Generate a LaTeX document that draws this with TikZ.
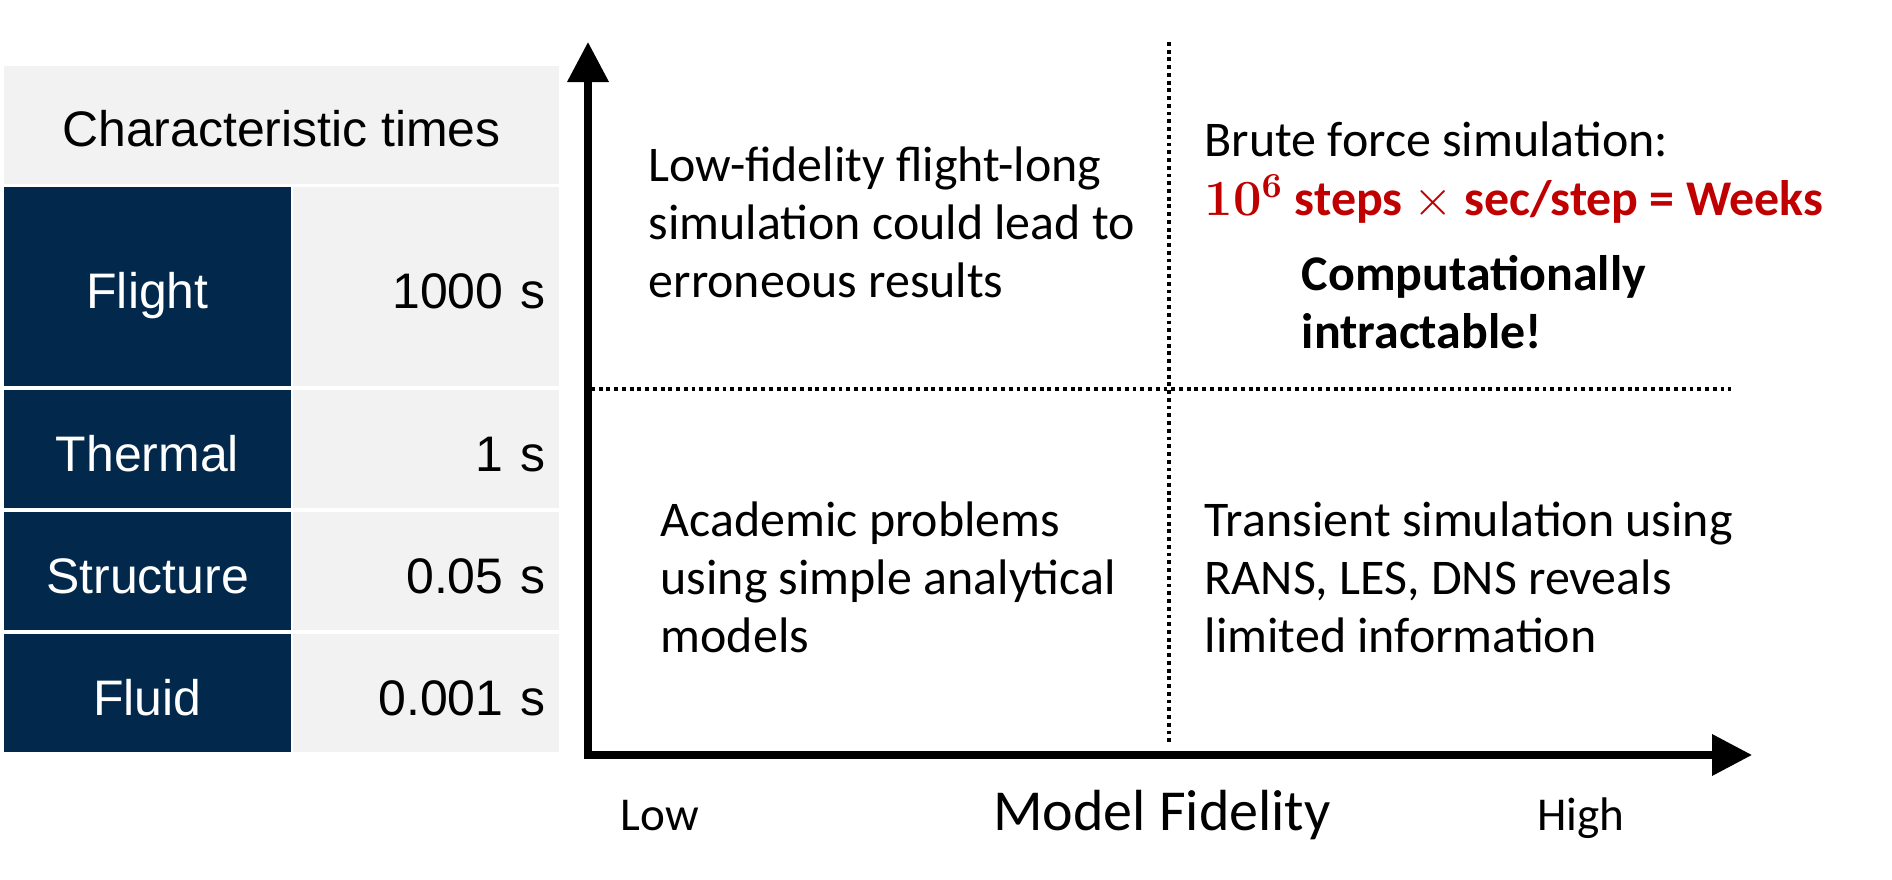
\documentclass[tikz,border=0pt]{standalone}
\usepackage[no-math]{fontspec}
\setmainfont{Carlito}
\newfontfamily\tablefont{Liberation Sans}
\usetikzlibrary{arrows.meta}
\definecolor{navy}{HTML}{02284B}
\definecolor{lightcell}{HTML}{F2F2F2}
\definecolor{weekred}{HTML}{C00000}

\begin{document}
\begin{tikzpicture}[x=0.01cm,y=-0.01cm,
    headcell/.style={fill=lightcell,inner sep=0pt,minimum width=5.55cm,minimum height=1.18cm,text height=0.42cm,text depth=0pt,font=\tablefont\fontsize{14.2}{17}\selectfont},
    keycell/.style={fill=navy,text=white,inner sep=0pt,minimum width=2.87cm,text height=0.44cm,text depth=0pt,font=\tablefont\fontsize{14.2}{17}\selectfont},
    valcell/.style={fill=lightcell,inner sep=0pt,minimum width=2.66cm,text width=2.38cm,text height=0.44cm,text depth=0pt,align=right,font=\tablefont\fontsize{14.2}{17}\selectfont},
    quad/.style={anchor=west,align=left,inner sep=0pt,font=\fontsize{14.2}{16.5}\selectfont},
    axislabel/.style={anchor=base,inner sep=0pt,font=\fontsize{13.4}{16}\selectfont},
    axis/.style={line width=2pt,{Triangle[length=0.4cm,width=0.4cm]}-{Triangle[length=0.4cm,width=0.4cm]}},
    divider/.style={line width=1.1pt,dash pattern=on 1.1pt off 1.1pt}]
    \useasboundingbox (0,0) rectangle (1892,880);

    % table of characteristic times
    \node (head) [headcell] at (281.5,125) {Characteristic times};

    \node (flight) [keycell,minimum height=1.99cm] at (147.5,286.5) {Flight};
    \node (flightval) [valcell,minimum height=1.99cm] at (426,286.5) {1000 s};

    \node (thermal) [keycell,minimum height=1.18cm] at (147.5,449) {Thermal};
    \node (thermalval) [valcell,minimum height=1.18cm] at (426,449) {1 s};

    \node (structure) [keycell,minimum height=1.18cm] at (147.5,571) {Structure};
    \node (structureval) [valcell,minimum height=1.18cm] at (426,571) {0.05 s};

    \node (fluid) [keycell,minimum height=1.18cm] at (147.5,693) {Fluid};
    \node (fluidval) [valcell,minimum height=1.18cm] at (426,693) {0.001 s};

    % axes and quadrants
    \coordinate (origin) at (588,755);
    \coordinate (ytip) at (588,42);
    \coordinate (xtip) at (1752,755);
    \draw[axis] (ytip) -- (origin) -- (xtip);

    \coordinate (vtop) at (1169,42);
    \coordinate (vbot) at (1169,745);
    \coordinate (hleft) at (591,389);
    \coordinate (hright) at (1731,389);
    \draw[divider] (vtop) -- (vbot);
    \draw[divider] (hleft) -- (hright);

    \node (lofi) [quad] at (648,222) {Low-fidelity flight-long\\simulation could lead to\\erroneous results};
    \node (brute) [quad] at (1204,139) {Brute force simulation:};
    \node (weeks) [quad,text=weekred,font=\fontsize{14.2}{16.5}\selectfont\bfseries] at (1204,199) {$\mathbf{10^6}$ steps $\times$ sec/step = Weeks};
    \node (intract) [quad,font=\fontsize{14.2}{16.5}\selectfont\bfseries] at (1301,302) {Computationally\\intractable!};
    \node (acad) [quad] at (660,577) {Academic problems\\using simple analytical\\models};
    \node (trans) [quad] at (1204,577) {Transient simulation using\\RANS, LES, DNS reveals\\limited information};

    \node (low) [axislabel] at (660,830) {Low};
    \node (fidelity) [axislabel,font=\fontsize{16.5}{20}\selectfont] at (1162,830) {Model Fidelity};
    \node (high) [axislabel] at (1581,830) {High};
\end{tikzpicture}
\end{document}
